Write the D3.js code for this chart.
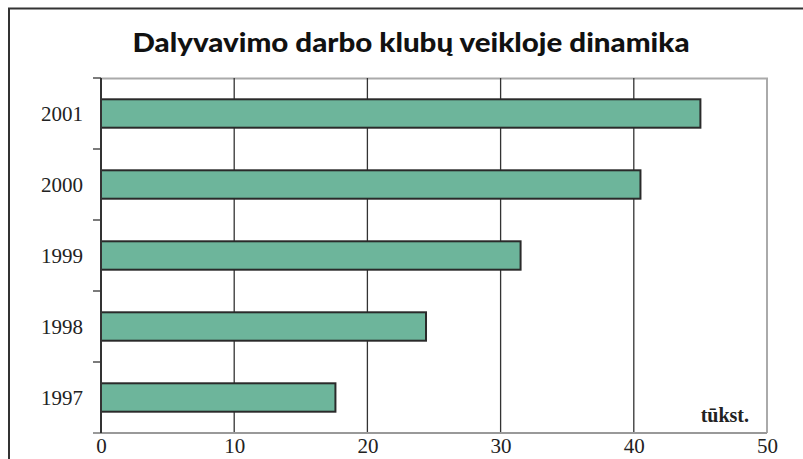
<!DOCTYPE html>
<html>
<head>
<meta charset="utf-8">
<script src="https://cdn.jsdelivr.net/npm/d3@7"></script>
<style>
  body { margin: 0; background: #fff; }
</style>
</head>
<body>
<div id="chart"></div>
<script>
// participation in work clubs, thousands
const YEARS = ["2001", "2000", "1999", "1998", "1997"];
const VALUES = [45.0, 40.5, 31.5, 24.4, 17.6];
const X_TICKS = [0, 10, 20, 30, 40, 50];

const width = 803, height = 459;
const margin = { top: 78, right: 36, bottom: 26, left: 101 };
const W = width - margin.left - margin.right;
const H = height - margin.top - margin.bottom;

const root = d3.select("#chart").append("svg")
    .attr("width", width).attr("height", height);

// outer frame (continues off the right / bottom edge)
root.append("path")
    .attr("d", `M9,${height + 5} V8.5 H${width + 5}`)
    .attr("fill", "none").attr("stroke", "#333").attr("stroke-width", 2);

root.append("text")
    .attr("x", 411).attr("y", 52)
    .attr("text-anchor", "middle")
    .attr("textLength", 557).attr("lengthAdjust", "spacingAndGlyphs")
    .style("font-family", "Lato, 'Open Sans', sans-serif")
    .style("font-weight", "900").style("font-size", "27px").style("fill", "#111")
    .text("Dalyvavimo darbo klubų veikloje dinamika");

const svg = root.append("g").attr("transform", `translate(${margin.left},${margin.top})`);

const x = d3.scaleLinear().domain([0, 50]).range([0, W]);
const y = d3.scaleBand().domain(YEARS).range([0, H]).paddingInner(0.6).paddingOuter(0.3);

// plot border (top / right light grey)
svg.append("path")
    .attr("d", `M0,0.5 H${x(50)} V${H}`)
    .attr("fill", "none").attr("stroke", "#aaa").attr("stroke-width", 2);

// vertical gridlines
svg.selectAll(".grid").data(X_TICKS.slice(1, -1)).enter().append("line")
    .attr("x1", d => x(d)).attr("x2", d => x(d))
    .attr("y1", 0).attr("y2", H)
    .attr("stroke", "#333").attr("stroke-width", 1.3);

// bars
const data = YEARS.map((yr, i) => ({ yr, v: VALUES[i] }));
svg.selectAll(".bar").data(data).enter().append("rect")
    .attr("x", 0).attr("y", d => y(d.yr))
    .attr("width", d => x(d.v)).attr("height", y.bandwidth())
    .attr("fill", "#6db59b").attr("stroke", "#2a2a2a").attr("stroke-width", 2);

// x axis
const xAxis = svg.append("g").attr("transform", `translate(0,${H})`)
    .call(d3.axisBottom(x).tickValues(X_TICKS).tickSize(0).tickPadding(5));
xAxis.select(".domain").attr("stroke", "#999").attr("stroke-width", 2)
    .attr("d", `M-8,0H${x(50)}`);
xAxis.selectAll("text")
    .style("font-family", "'Liberation Serif', 'DejaVu Serif', serif")
    .style("font-size", "21px").style("fill", "#222");

// y axis: ticks at band boundaries
svg.append("line").attr("x1", 0).attr("x2", 0).attr("y1", 0).attr("y2", H)
    .attr("stroke", "#333").attr("stroke-width", 2);
const step = y.step();
svg.selectAll(".ytick").data(d3.range(YEARS.length)).enter().append("line")
    .attr("x1", -8).attr("x2", 0)
    .attr("y1", d => d * step).attr("y2", d => d * step)
    .attr("stroke", "#333").attr("stroke-width", 1.3);
svg.selectAll(".ylab").data(YEARS).enter().append("text")
    .attr("x", -18).attr("y", d => y(d) + y.bandwidth() / 2)
    .attr("dy", "0.35em").attr("text-anchor", "end")
    .style("font-family", "'Liberation Serif', 'DejaVu Serif', serif")
    .style("font-size", "21px").style("fill", "#222")
    .text(d => d);

// unit label
svg.append("text")
    .attr("x", x(50) - 18).attr("y", H - 11)
    .attr("text-anchor", "end")
    .style("font-family", "'Liberation Serif', 'DejaVu Serif', serif")
    .style("font-weight", "bold").style("font-size", "20px").style("fill", "#222")
    .text("tūkst.");
</script>
</body>
</html>
